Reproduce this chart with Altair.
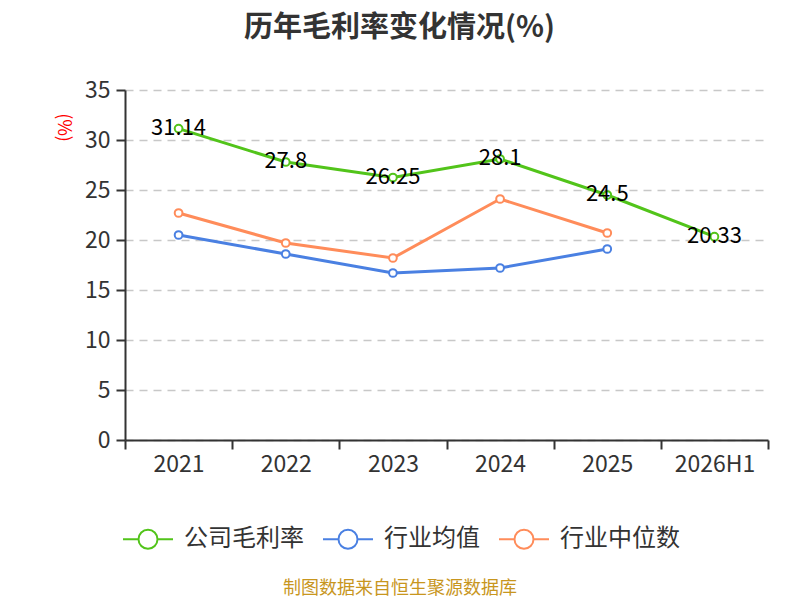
import altair as alt
import pandas as pd

years = ["2021", "2022", "2023", "2024", "2025", "2026H1"]
series_names = ["公司毛利率", "行业均值", "行业中位数"]
company = [31.14, 27.8, 26.25, 28.1, 24.5, 20.33]
ind_mean = [20.5, 18.6, 16.7, 17.2, 19.1, None]
ind_median = [22.7, 19.7, 18.2, 24.1, 20.7, None]
colors = ["#52c41a", "#4a80e2", "#ff8c5a"]

rows = []
for name, vals in zip(series_names, [company, ind_mean, ind_median]):
    for y, v in zip(years, vals):
        if v is not None:
            rows.append({"year": y, "series": name, "value": v})
df = pd.DataFrame(rows)
df_company = df[df["series"] == "公司毛利率"]

FONT = "Noto Sans CJK SC"
W, H = 643, 350

sym_path = ("M-1,0L-0.38,0M0.38,0L1,0"
            "M-0.38,0A0.38,0.38,0,1,1,0.38,0A0.38,0.38,0,1,1,-0.38,0Z")

x_enc = alt.X("year:N", sort=years, bandPosition=0.5,
              scale=alt.Scale(type="band", domain=years, paddingInner=0, paddingOuter=0),
              axis=alt.Axis(title=None, labelAngle=0, tickBand="extent", grid=False,
                            labelFontSize=23, labelColor="#333", labelFont=FONT,
                            domainColor="#333", domainWidth=2, tickColor="#333",
                            tickWidth=2, tickSize=9, labelPadding=4))
y_enc = alt.Y("value:Q",
              scale=alt.Scale(domain=[0, 35], nice=False),
              axis=alt.Axis(values=[0, 5, 10, 15, 20, 25, 30, 35], title="(%)",
                            titleColor="red", titleFontSize=18, titleFont=FONT,
                            titleFontWeight="normal", titleAngle=90,
                            titleX=-63, titleY=37, titleAlign="center", titleBaseline="middle",
                            labelFontSize=23, labelColor="#333", labelFont=FONT,
                            domainColor="#333", domainWidth=2, tickColor="#333",
                            tickWidth=2, tickSize=9, labelPadding=6,
                            gridColor="#c8c8c8", gridDash=[8, 6], gridWidth=1.5))

color_enc = alt.Color("series:N", sort=series_names,
                      scale=alt.Scale(domain=series_names, range=colors),
                      legend=alt.Legend(title=None, orient="none", legendX=-3, legendY=423,
                                        direction="horizontal", symbolType=sym_path,
                                        symbolSize=2500, symbolStrokeWidth=2,
                                        symbolFillColor="white", labelFontSize=24,
                                        labelFont=FONT, labelColor="#333",
                                        labelOffset=10, columnPadding=15))

lines = alt.Chart(df).mark_line(strokeWidth=3).encode(
    x=x_enc, y=y_enc, color=color_enc, detail="series:N",
)

points = alt.Chart(df).mark_point(
    filled=False, fill="white", fillOpacity=1, size=60, strokeWidth=2, opacity=1
).encode(x=x_enc, y=y_enc, color=color_enc)

labels = alt.Chart(df_company).mark_text(
    fontSize=22, font=FONT, color="black", align="center", baseline="middle", dy=-1
).encode(x=x_enc, y=y_enc, text=alt.Text("value:Q"))

source = alt.Chart(pd.DataFrame({"t": ["制图数据来自恒生聚源数据库"]})).mark_text(
    fontSize=18, font=FONT, color="#c8961e", align="center", baseline="middle"
).encode(x=alt.value(275), y=alt.value(499), text="t:N")

chart = alt.layer(lines, points, labels, source).properties(
    width=W, height=H,
    title=alt.TitleParams("历年毛利率变化情况(%)", fontSize=29, font=FONT, fontWeight="bold",
                          color="#333", anchor="middle", frame="group", offset=36, dx=-47),
    autosize=alt.AutoSizeParams(type="none"),
    padding={"left": 117, "top": 82, "right": 24, "bottom": 170},
).configure_view(stroke=None)

chart.save("out.html", embed_options={"renderer": "svg", "actions": False})
